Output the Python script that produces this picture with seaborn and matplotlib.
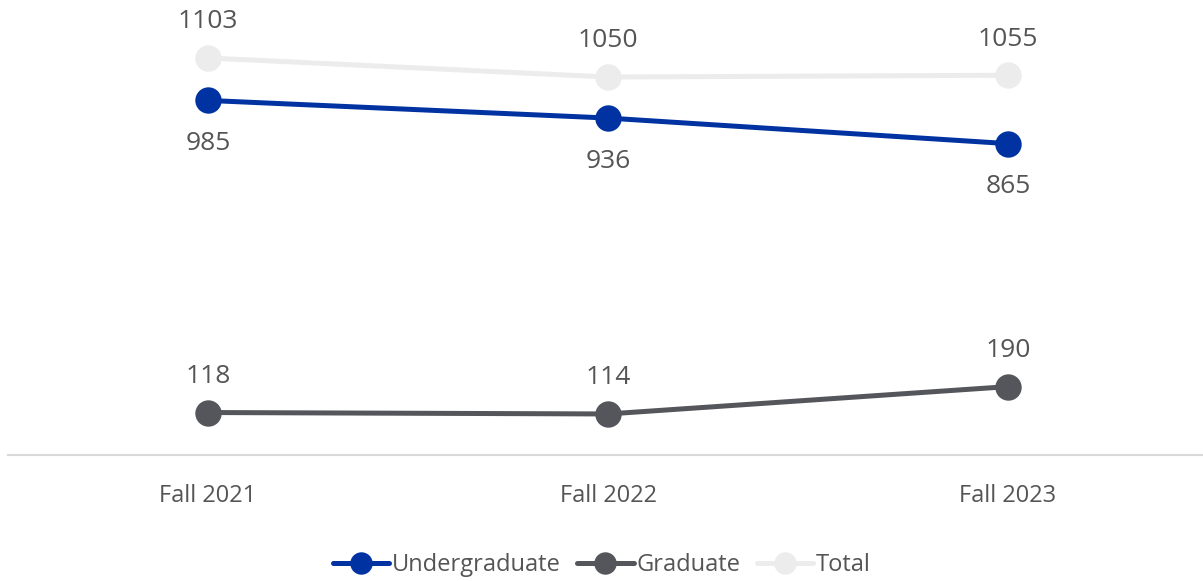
import pandas as pd
import seaborn as sns
import matplotlib.pyplot as plt

# --- data ---
terms = ['Fall 2021', 'Fall 2022', 'Fall 2023']
undergraduate = [985, 936, 865]
graduate = [118, 114, 190]
total = [1103, 1050, 1055]

colors = {'Undergraduate': '#0033a1', 'Graduate': '#54565b', 'Total': '#ececec'}
# label placement: offset in points (above > 0, below < 0)
offsets = {'Undergraduate': -31, 'Graduate': 26, 'Total': 26}

df = pd.DataFrame({
    'term': terms * 3,
    'x': list(range(len(terms))) * 3,
    'value': undergraduate + graduate + total,
    'series': ['Undergraduate'] * 3 + ['Graduate'] * 3 + ['Total'] * 3,
})

sns.set_theme(style='white')
plt.rcParams['font.family'] = ['Open Sans', 'DejaVu Sans']

fig = plt.figure(figsize=(12.03, 5.81), dpi=100)
ax = fig.add_axes([8 / 1203, 126 / 581, 1200 / 1203, 455 / 581])

for name in ['Total', 'Undergraduate', 'Graduate']:
    sub = df[df['series'] == name]
    sns.lineplot(data=sub, x='x', y='value', ax=ax, color=colors[name],
                 linewidth=3.6, marker='o', markersize=19, markeredgewidth=0,
                 label=name)
    for xv, yv in zip(sub['x'], sub['value']):
        ax.annotate(str(yv), (xv, yv), xytext=(0, offsets[name]),
                    textcoords='offset points', ha='center', va='center',
                    fontsize=19, color='#555555')

ax.set_xlim(-0.5, 2.5)
ax.set_ylim(0, 1264)
ax.set_xticks(range(len(terms)))
ax.set_xticklabels(terms, fontsize=17, color='#555555')
ax.tick_params(axis='x', length=0, pad=21)
ax.set_yticks([])
ax.set_xlabel('')
ax.set_ylabel('')
for side in ['top', 'left', 'right']:
    ax.spines[side].set_visible(False)
ax.spines['bottom'].set_color('#d9d9d9')
ax.spines['bottom'].set_linewidth(1.5)

handles, labels = ax.get_legend_handles_labels()
order = [labels.index(n) for n in ['Undergraduate', 'Graduate', 'Total']]
ax.legend([handles[i] for i in order], [labels[i] for i in order],
          loc='center', bbox_to_anchor=(0.5, 16 / 581), bbox_transform=fig.transFigure,
          ncol=3, frameon=False, fontsize=17, handlelength=2.4,
          handletextpad=0.1, columnspacing=0.7, markerscale=0.85,
          labelcolor='#555555')

fig.savefig('out.png', dpi=100)
